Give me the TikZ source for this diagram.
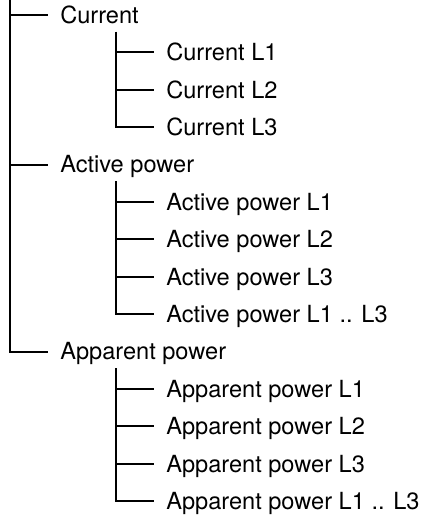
\documentclass[tikz,border=0pt]{standalone}
\usepackage{fontspec}
\setmainfont{TeX Gyre Heros}
\usetikzlibrary{calc, math}

\begin{document}
\begin{tikzpicture}[x=0.75pt,y=-0.75pt,
  item/.style={anchor=west, inner xsep=9pt, inner ysep=0pt, text height=12.4pt, text depth=0pt, font=\fontsize{17.7}{20}\selectfont},
  branch/.style={line width=1.5pt}]
\tikzmath{
\dy=37.4;
\yo=15;
\xa=10;
\xb=116;
\la=48;
\lb=154;
\gap=16.5;
}
\useasboundingbox (0,0) rectangle (428,518);

\node[item] (cur) at (\la,\yo) {Current};
\node[item] (cur1) at (\lb,{\yo+1*\dy}) {Current L1};
\node[item] (cur2) at (\lb,{\yo+2*\dy}) {Current L2};
\node[item] (cur3) at (\lb,{\yo+3*\dy}) {Current L3};

\node[item] (act) at (\la,{\yo+4*\dy}) {Active power};
\node[item] (act1) at (\lb,{\yo+5*\dy}) {Active power L1};
\node[item] (act2) at (\lb,{\yo+6*\dy}) {Active power L2};
\node[item] (act3) at (\lb,{\yo+7*\dy}) {Active power L3};
\node[item] (acts) at (\lb,{\yo+8*\dy}) {Active power L1 .. L3};

\node[item] (app) at (\la,{\yo+9*\dy}) {Apparent power};
\node[item] (app1) at (\lb,{\yo+10*\dy}) {Apparent power L1};
\node[item] (app2) at (\lb,{\yo+11*\dy}) {Apparent power L2};
\node[item] (app3) at (\lb,{\yo+12*\dy}) {Apparent power L3};
\node[item] (apps) at (\lb,{\yo+13*\dy}) {Apparent power L1 .. L3};

% main trunk
\coordinate (top) at (\xa,0);
\draw[branch] (top) |- (app.west);
\draw[branch] (top |- cur.west) -- (cur.west);
\draw[branch] (top |- act.west) -- (act.west);

% sub trunks
\coordinate (curtop) at ($(cur.west)+(\xb-\la,\gap)$);
\draw[branch] (curtop) |- (cur3.west);
\draw[branch] (curtop |- cur1.west) -- (cur1.west);
\draw[branch] (curtop |- cur2.west) -- (cur2.west);

\coordinate (acttop) at ($(act.west)+(\xb-\la,\gap)$);
\draw[branch] (acttop) |- (acts.west);
\draw[branch] (acttop |- act1.west) -- (act1.west);
\draw[branch] (acttop |- act2.west) -- (act2.west);
\draw[branch] (acttop |- act3.west) -- (act3.west);

\coordinate (apptop) at ($(app.west)+(\xb-\la,\gap)$);
\draw[branch] (apptop) |- (apps.west);
\draw[branch] (apptop |- app1.west) -- (app1.west);
\draw[branch] (apptop |- app2.west) -- (app2.west);
\draw[branch] (apptop |- app3.west) -- (app3.west);

\end{tikzpicture}
\end{document}
